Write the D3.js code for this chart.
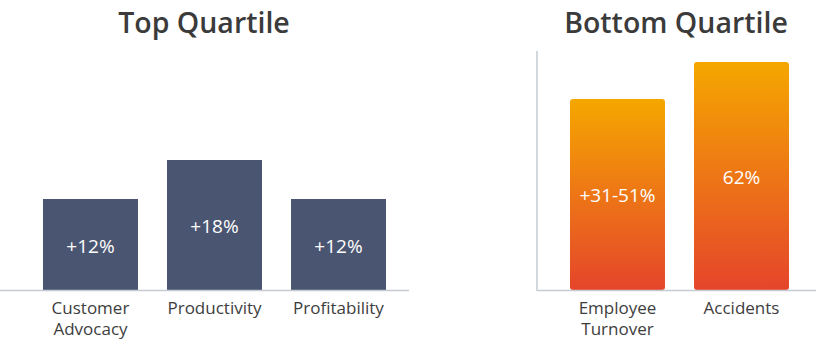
<!DOCTYPE html>
<html>
<head>
<meta charset="utf-8">
<script src="https://cdn.jsdelivr.net/npm/d3@7"></script>
<style>
  body { margin: 0; background: #fff; }
  svg { display: block; font-family: "Open Sans", sans-serif; }
</style>
</head>
<body>
<svg id="chart" width="816" height="352"></svg>
<script>
// data
const topCategories = [["Customer", "Advocacy"], ["Productivity"], ["Profitability"]];
const topValues = [12, 18, 12];
const topLabels = ["+12%", "+18%", "+12%"];

const bottomCategories = [["Employee", "Turnover"], ["Accidents"]];
const bottomValues = [51, 62];
const bottomLabels = ["+31-51%", "62%"];

const svg = d3.select("#chart");

const defs = svg.append("defs");
const grad = defs.append("linearGradient")
	.attr("id", "orangeGrad")
	.attr("x1", 0).attr("y1", 0).attr("x2", 0).attr("y2", 1);
grad.append("stop").attr("offset", "0%").attr("stop-color", "#f5a700");
grad.append("stop").attr("offset", "100%").attr("stop-color", "#e5452b");

function drawPanel(opts) {
	const g = svg.append("g");
	const names = opts.categories.map(d => d.join(" "));

	var x = d3.scaleBand()
		.domain(names)
		.range(opts.xRange)
		.paddingInner(opts.padIn)
		.paddingOuter(opts.padOut);

	var y = d3.scaleLinear()
		.domain(opts.yDomain)
		.range([opts.base, opts.top]);

	// title
	g.append("text")
		.attr("x", opts.titleX)
		.attr("y", 33)
		.attr("text-anchor", "middle")
		.attr("font-size", 28.5)
		.attr("font-weight", 600)
		.attr("fill", "#3b3b3b")
		.text(opts.title);

	// bars
	g.selectAll("rect.bar")
		.data(opts.values)
		.enter()
		.append("rect")
		.attr("class", "bar")
		.attr("x", (d, i) => x(names[i]))
		.attr("y", d => y(d))
		.attr("width", x.bandwidth())
		.attr("height", d => y(opts.yDomain[0]) - y(d))
		.attr("rx", opts.radius)
		.attr("fill", opts.fill);

	// value labels
	g.selectAll("text.val")
		.data(opts.values)
		.enter()
		.append("text")
		.attr("class", "val")
		.attr("x", (d, i) => x(names[i]) + x.bandwidth() / 2)
		.attr("y", d => (y(d) + y(opts.yDomain[0])) / 2 + 8)
		.attr("text-anchor", "middle")
		.attr("font-size", 19)
		.attr("fill", "#fff")
		.text((d, i) => opts.labels[i]);

	// axis lines
	g.append("line")
		.attr("x1", opts.lineX[0]).attr("x2", opts.lineX[1])
		.attr("y1", opts.base + 0.5).attr("y2", opts.base + 0.5)
		.attr("stroke", "#c5cad3")
		.attr("stroke-width", 1.5);
	if (opts.vAxis) {
		g.append("line")
			.attr("x1", opts.lineX[0]).attr("x2", opts.lineX[0])
			.attr("y1", 51).attr("y2", opts.base + 1)
			.attr("stroke", "#c5cad3")
			.attr("stroke-width", 1.5);
	}

	// category labels, one text per line
	opts.categories.forEach((lines, i) => {
		lines.forEach((ln, j) => {
			g.append("text")
				.attr("x", x(names[i]) + x.bandwidth() / 2)
				.attr("y", opts.base + 24 + j * 21)
				.attr("text-anchor", "middle")
				.attr("font-size", 17)
				.attr("fill", "#3d3d3d")
				.text(ln);
		});
	});
}

drawPanel({
	title: "Top Quartile",
	titleX: 204,
	categories: topCategories,
	values: topValues,
	labels: topLabels,
	xRange: [10, 419],
	padIn: 0.234,
	padOut: 0.266,
	yDomain: [-2, 18],
	base: 290,
	top: 160,
	radius: 0,
	fill: "#4a5571",
	lineX: [0, 409],
	vAxis: false
});

drawPanel({
	title: "Bottom Quartile",
	titleX: 676,
	categories: bottomCategories,
	values: bottomValues,
	labels: bottomLabels,
	xRange: [537, 822],
	padIn: 0.234,
	padOut: 0.266,
	yDomain: [-6, 62],
	base: 290,
	top: 62,
	radius: 3,
	fill: "url(#orangeGrad)",
	lineX: [537, 816],
	vAxis: true
});
</script>
</body>
</html>
